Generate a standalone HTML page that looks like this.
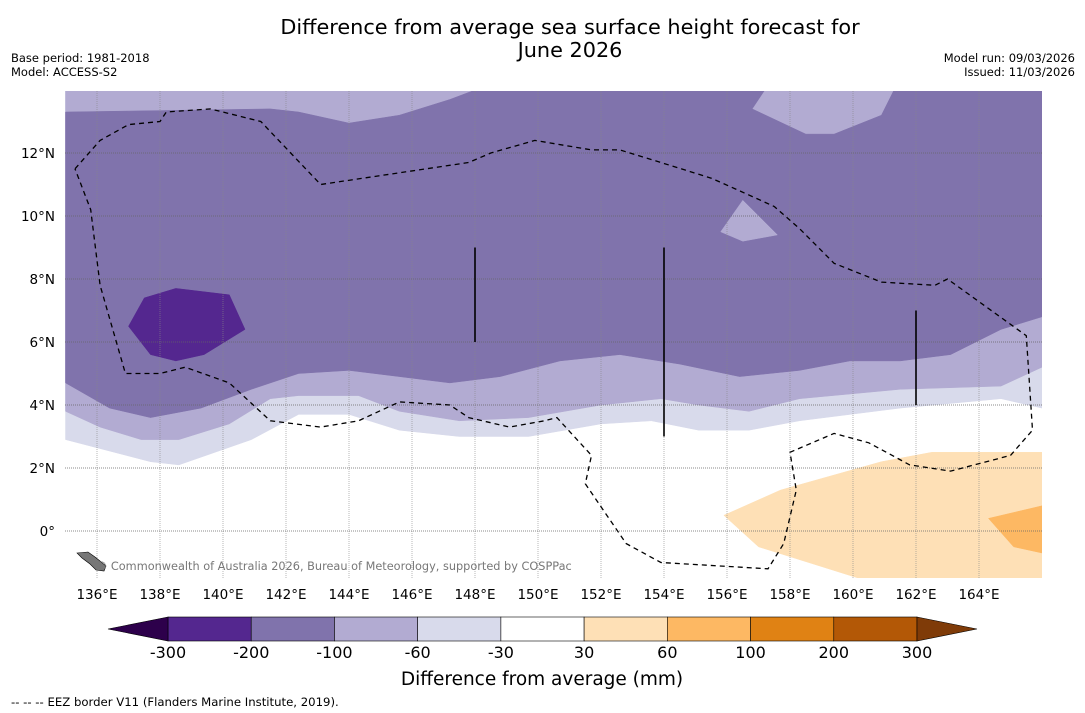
<!DOCTYPE html>
<html><head><meta charset="utf-8"><style>
html,body{margin:0;padding:0;background:#fff;width:1085px;height:713px;overflow:hidden;font-family:"Liberation Sans","DejaVu Sans",sans-serif}
</style></head><body>
<svg id="chart" width="1085" height="713" xmlns="http://www.w3.org/2000/svg" font-family="DejaVu Sans, Liberation Sans, sans-serif">
<g>
<text x="570" y="34" text-anchor="middle" font-size="20.8">Difference from average sea surface height forecast for</text>
<text x="570" y="57" text-anchor="middle" font-size="20.8">June 2026</text>
</g>
<text x="11" y="62" font-size="11.5">Base period: 1981-2018</text>
<text x="11" y="76" font-size="11.5">Model: ACCESS-S2</text>
<text x="1075" y="62" font-size="11.5" text-anchor="end">Model run: 09/03/2026</text>
<text x="1075" y="76" font-size="11.5" text-anchor="end">Issued: 11/03/2026</text>
<defs><clipPath id="mapclip"><rect x="65" y="91" width="977" height="487"/></clipPath></defs>
<g id="map" clip-path="url(#mapclip)"></g>
<g id="axes"></g>
<g id="cbar"></g>
<text x="542" y="685" text-anchor="middle" font-size="18.5">Difference from average (mm)</text>
<text x="11" y="706" font-size="11.7">--  --  -- EEZ border V11 (Flanders Marine Institute, 2019).</text>
</svg>
<script>
// ---- data ----
const lonTicks=[136,138,140,142,144,146,148,150,152,154,156,158,160,162,164];
const latTicks=[0,2,4,6,8,10,12];
const cbLevels=[-300,-200,-100,-60,-30,30,60,100,200,300];
const cbColors=['#54278f','#8073ac','#b2abd2','#d8daeb','#ffffff','#fee0b6','#fdb863','#e08214','#b35806'];
const cbUnder='#2d004b', cbOver='#7f3b08';
// contour regions [lon,lat]
const veryLightBand=[[135,14],[166,14],[166,3.9],[164.7,4.2],[161.5,3.9],[158.3,3.5],[156.7,3.2],[155.1,3.2],[153.6,3.5],[152,3.4],[149.7,3.0],[147.5,3.0],[145.6,3.2],[144,3.7],[142.4,3.7],[140.9,2.9],[138.6,2.1],[137.7,2.2],[135,2.9]];
const lightBand=[[135,14],[166,14],[166,5.2],[164.7,4.6],[161.5,4.5],[158.3,4.2],[156.7,3.8],[155.1,4.0],[153.9,4.2],[152,4.0],[149.7,3.6],[147.5,3.5],[145.6,3.8],[144.3,4.3],[142.4,4.3],[141.5,4.2],[140.2,3.4],[138.6,2.9],[137.4,2.9],[136.1,3.3],[135,3.8]];
const mainPurple=[[135,13.3],[141.5,13.4],[142.4,13.3],[144,12.95],[145.6,13.2],[147.2,13.7],[148,14],[157.2,14],[156.8,13.4],[158.5,12.6],[159.4,12.6],[160.9,13.2],[161.3,14],[166,14],[166,6.8],[164.7,6.4],[163.1,5.6],[161.5,5.4],[159.9,5.4],[158.3,5.1],[156.4,4.9],[154.5,5.3],[152.6,5.6],[150.7,5.4],[148.8,4.9],[147.2,4.7],[145.6,4.9],[144,5.1],[142.4,5.0],[140.9,4.5],[139.3,3.9],[137.7,3.6],[136.4,3.9],[135,4.7]];
const smallBlob=[[155.8,9.5],[156.5,10.5],[157.6,9.4],[156.5,9.2]];
const darkBlob=[[137,6.5],[137.5,7.4],[138.5,7.7],[140.2,7.5],[140.7,6.4],[139.4,5.6],[138.5,5.4],[137.7,5.6]];
const orangeLight=[[155.9,0.5],[157.7,1.3],[160.9,2.2],[162.5,2.5],[166,2.5],[166,-1.6],[160.5,-1.6],[157,-0.5]];
const orangeMid=[[164.3,0.4],[166,0.8],[166,-0.7],[165.1,-0.5]];
const eez=[[135.3,11.5],[136.1,12.4],[137,12.9],[138,13],[138.2,13.3],[139.6,13.4],[141.2,13],[143.1,11],[147.8,11.7],[148.5,12],[149.9,12.4],[151.7,12.1],[152.6,12.1],[153.9,11.7],[155.5,11.2],[156.4,10.8],[157.5,10.3],[158.3,9.6],[159.4,8.5],[160.9,7.9],[162.6,7.8],[163,8],[165.5,6.2],[165.7,3.2],[165,2.4],[163.1,1.9],[161.8,2.1],[160.5,2.8],[159.4,3.1],[158,2.5],[158.2,1.3],[157.8,-0.4],[157.3,-1.2],[153.9,-1.0],[152.8,-0.4],[151.5,1.5],[151.7,2.4],[150.6,3.6],[150.2,3.5],[149.1,3.3],[147.8,3.6],[147.2,4.0],[145.6,4.1],[144.3,3.5],[143.1,3.3],[141.5,3.5],[140.2,4.7],[138.8,5.2],[138,5.0],[136.9,5.0],[136.1,7.8],[135.8,10.2],[135.3,11.5]];
const trackLines=[[148,9,6],[154,9,3],[162,7,4]];
// ---- axes functions ----
const x0=65.5,pxDeg=31.5,yEq=531;
const X=lon=>x0+(lon-135)*pxDeg, Y=lat=>yEq-lat*pxDeg;
const NS='http://www.w3.org/2000/svg';
function mk(tag,attrs,parent){const e=document.createElementNS(NS,tag);for(const k in attrs)e.setAttribute(k,attrs[k]);parent.appendChild(e);return e;}
const map=document.getElementById('map'),axes=document.getElementById('axes'),cbar=document.getElementById('cbar');
const pts=a=>a.map(p=>X(p[0]).toFixed(1)+','+Y(p[1]).toFixed(1)).join(' ');
let bg=mk('rect',{x:65,y:91,width:977,height:487,fill:'#ffffff'},map);


const regions=[[veryLightBand,cbColors[3],'region-minus60-to-minus30'],[lightBand,cbColors[2],'region-minus100-to-minus60'],[mainPurple,cbColors[1],'region-minus200-to-minus100'],[smallBlob,cbColors[2],'region-light-patch'],[darkBlob,cbColors[0],'region-minus300-to-minus200'],[orangeLight,cbColors[5],'region-30-to-60'],[orangeMid,cbColors[6],'region-60-to-100']];
regions.forEach(r=>{
  const p=mk('polygon',{points:pts(r[0]),fill:r[1],stroke:r[1],'stroke-width':0.5},map);
  
  
});
lonTicks.forEach(l=>{
  const g=mk('line',{x1:X(l),x2:X(l),y1:91,y2:578,stroke:'#888','stroke-width':0.6,'stroke-dasharray':'1,1'},map);
  
  
  const t=mk('text',{x:X(l),y:599,'text-anchor':'middle','font-size':13.5},axes);t.textContent=l+'°E';
  
  
});
latTicks.forEach(l=>{
  const g=mk('line',{x1:65,x2:1042,y1:Y(l),y2:Y(l),stroke:'#666','stroke-width':0.7,'stroke-dasharray':'1,1'},map);
  
  
  const t=mk('text',{x:55,y:Y(l)+5,'text-anchor':'end','font-size':13.5},axes);t.textContent=l===0?'0°':l+'°N';
  
  
});
let ez=mk('polyline',{points:pts(eez),fill:'none',stroke:'#000','stroke-width':1.3,'stroke-dasharray':'5,4'},map);


trackLines.forEach(t=>{
  const l=mk('line',{x1:X(t[0]),x2:X(t[0]),y1:Y(t[1]),y2:Y(t[2]),stroke:'#000','stroke-width':1.6},map);
  
  
});
let land=mk('polygon',{points:'77,553 88,552 95,557 100,561 106,566 104,571 96,570 90,564 82,558',fill:'#777',stroke:'#000','stroke-width':0.6},map);


let cp=mk('text',{x:96,y:570,'font-size':11.3,fill:'#777'},map);cp.textContent='© Commonwealth of Australia 2026, Bureau of Meteorology, supported by COSPPac';


// colorbar
const cbx0=168,cbx1=917,cby=617,cbh=24,segW=(cbx1-cbx0)/cbColors.length;
cbColors.forEach((c,i)=>{
  const r=mk('rect',{x:cbx0+i*segW,y:cby,width:segW,height:cbh,fill:c,stroke:'#000','stroke-width':0.6},cbar);
  
  
});
let tu=mk('polygon',{points:`${cbx0},${cby} 108,${cby+cbh/2} ${cbx0},${cby+cbh}`,fill:cbUnder,stroke:'#000','stroke-width':0.6},cbar);


let to=mk('polygon',{points:`${cbx1},${cby} 977,${cby+cbh/2} ${cbx1},${cby+cbh}`,fill:cbOver,stroke:'#000','stroke-width':0.6},cbar);


cbLevels.forEach((v,i)=>{
  const t=mk('text',{x:cbx0+i*segW,y:658,'text-anchor':'middle','font-size':16},cbar);t.textContent=v;
  
  
});
</script>
</body></html>
